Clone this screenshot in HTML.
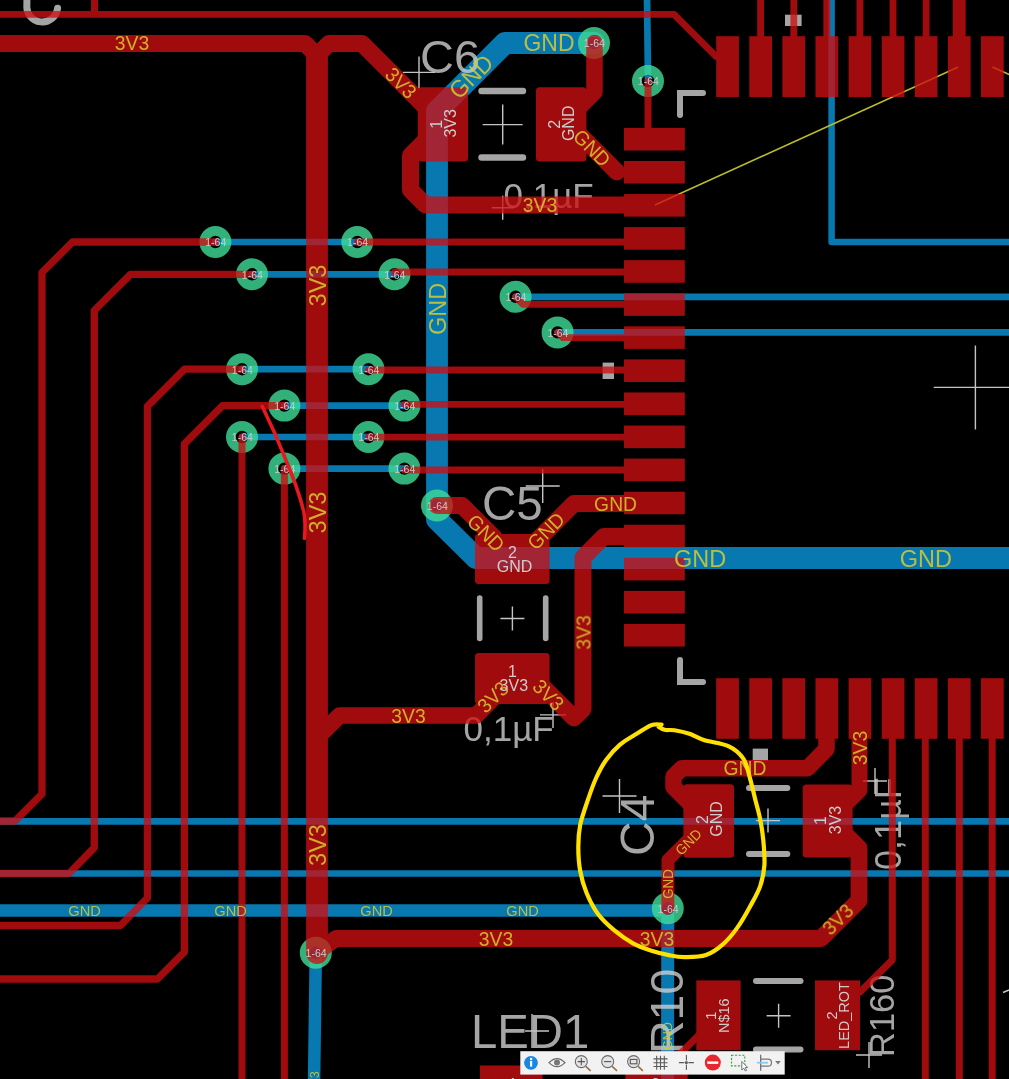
<!DOCTYPE html><html><head><meta charset="utf-8"><style>html,body{margin:0;padding:0;background:#000;width:1009px;height:1079px;overflow:hidden}svg{display:block}text{font-family:"Liberation Sans", sans-serif}</style></head><body>
<svg width="1009" height="1079" viewBox="0 0 1009 1079">
<rect width="1009" height="1079" fill="#000"/>
<g opacity="0.8" stroke="#0a96dc" fill="none" stroke-linecap="round" stroke-linejoin="round"><polyline points="215.4,242.0 357.3,242.0" stroke-width="6.7" /><polyline points="252.0,274.3 394.5,274.3" stroke-width="6.7" /><polyline points="242.0,369.2 368.5,369.2" stroke-width="6.7" /><polyline points="284.4,405.6 404.4,405.6" stroke-width="6.7" /><polyline points="242.0,437.0 368.5,437.0" stroke-width="6.7" /><polyline points="284.4,468.6 404.0,468.6" stroke-width="6.7" /><polyline points="515.6,296.8 1012.0,296.8" stroke-width="6.7" /><polyline points="557.6,332.4 1012.0,332.4" stroke-width="6.7" /><polyline points="-5.0,821.3 1012.0,821.3" stroke-width="6.7" /><polyline points="-5.0,873.5 1012.0,873.5" stroke-width="6.7" /><polyline points="647.0,-5.0 648.0,81.0" stroke-width="6.7" /><polyline points="831.6,-5.0 831.6,242.0 1012.0,242.0" stroke-width="6.5" /><polyline points="594.0,43.0 505.0,43.0 437.0,111.0 437.0,519.5 476.0,558.0 1012.0,558.0" stroke-width="21.8" /><polyline points="-5.0,910.5 660.0,910.5 667.8,908.6" stroke-width="12.6" /><polyline points="315.8,952.7 314.0,1085.0" stroke-width="12.5" /><polyline points="667.8,908.3 667.5,1085.0" stroke-width="13" /></g>
<g opacity="0.8"><g fill="none" stroke="#cfcfcf" stroke-linecap="round" stroke-linejoin="miter"><line x1="481.5" y1="91" x2="523" y2="91" stroke-width="6.4"/><line x1="481.5" y1="157.5" x2="523" y2="157.5" stroke-width="6.4"/><line x1="479.7" y1="598" x2="479.7" y2="638.5" stroke-width="5.6"/><line x1="545.7" y1="598" x2="545.7" y2="638.5" stroke-width="5.6"/><line x1="749" y1="787.9" x2="787.3" y2="787.9" stroke-width="6"/><line x1="749" y1="853.9" x2="787.3" y2="853.9" stroke-width="6"/><line x1="756" y1="981" x2="800.5" y2="981" stroke-width="6"/><line x1="756" y1="1049.5" x2="800.5" y2="1049.5" stroke-width="6"/><polyline points="680,115 680,93 703,93" stroke-width="6"/><polyline points="680,660 680,682 703,682" stroke-width="6"/><path d="M26.9,-8 L26.9,4.9 A15.2,15.2 0 0 0 57.6,8.2" stroke-width="7"/></g><g fill="#cfcfcf"><rect x="785" y="14.7" width="16.6" height="11.3"/><rect x="602.6" y="362.6" width="11.4" height="16.4"/><rect x="752.7" y="748.6" width="15.3" height="11.9"/><text x="420" y="72.5" font-size="47">C6</text><text x="503.5" y="208.3" font-size="35">0,1µF</text><text x="482" y="519.8" font-size="47.5">C5</text><text x="463.5" y="740.5" font-size="35">0,1µF</text><text transform="translate(654,856) rotate(-90)" x="0" y="0" font-size="48">C4</text><text transform="translate(900.5,870) rotate(-90)" x="0" y="0" font-size="36">0,1µF</text><text x="471" y="1048" font-size="47.3">LED1</text><text transform="translate(682.5,1054) rotate(-90)" x="0" y="0" font-size="46.5">R10</text><text transform="translate(893.5,1057) rotate(-90)" x="0" y="0" font-size="34.5">R160</text></g></g>
<g stroke="#c4c4c4" stroke-width="1.4" fill="none"><path d="M403,72.4H435M419,56.400000000000006V88.4"/><path d="M482.7,124.6H522.7M502.7,104.6V144.6"/><path d="M491.7,207.8H513.7M502.7,195.8V219.8"/><path d="M525.7,486H559.7M542.7,469V503"/><path d="M500.4,618.5H524.4M512.4,606.5V630.5"/><path d="M540,714.9H566M553,701.9V727.9"/><path d="M602.5,796H636.5M619.5,779V813"/><path d="M756,820.6H780M768,808.6V832.6"/><path d="M863,781H887M875,768V794"/><path d="M525,1031H549M532,1014V1048"/><path d="M1003,992.5L1009,990"/><path d="M766.6,1015.7H790.6M778.6,1003.7V1027.7"/><path d="M856,1055H882M869,1042V1068"/><path d="M933.6999999999999,387.4H1017.1M975.4,345.4V429.4"/></g>
<g stroke="#bcbc2c" stroke-width="1.5"><line x1="655" y1="205" x2="958.3" y2="67" /><line x1="992.4" y1="67" x2="1012" y2="75.8" /></g>
<g opacity="0.8" stroke="#3edd98" fill="none"><circle cx="594" cy="43" r="11.1" stroke-width="9.8"/><circle cx="648" cy="81" r="11.1" stroke-width="9.8"/><circle cx="215.4" cy="242" r="11.1" stroke-width="9.8"/><circle cx="357.3" cy="242" r="11.1" stroke-width="9.8"/><circle cx="252" cy="274.3" r="11.1" stroke-width="9.8"/><circle cx="394.5" cy="274.3" r="11.1" stroke-width="9.8"/><circle cx="515.6" cy="296.8" r="11.1" stroke-width="9.8"/><circle cx="557.6" cy="332.4" r="11.1" stroke-width="9.8"/><circle cx="242" cy="369.2" r="11.1" stroke-width="9.8"/><circle cx="368.5" cy="369.2" r="11.1" stroke-width="9.8"/><circle cx="284.4" cy="405.6" r="11.1" stroke-width="9.8"/><circle cx="404.4" cy="405.6" r="11.1" stroke-width="9.8"/><circle cx="242" cy="437" r="11.1" stroke-width="9.8"/><circle cx="368.5" cy="437" r="11.1" stroke-width="9.8"/><circle cx="284.4" cy="468.6" r="11.1" stroke-width="9.8"/><circle cx="404.4" cy="468.6" r="11.1" stroke-width="9.8"/><circle cx="437" cy="505.5" r="11.1" stroke-width="9.8"/><circle cx="315.8" cy="952.7" r="11.1" stroke-width="9.8"/><circle cx="667.8" cy="908.3" r="11.1" stroke-width="9.8"/></g>
<g opacity="0.78"><g stroke="#cd0f12" fill="none" stroke-linecap="round" stroke-linejoin="round"><polyline points="-5.0,14.4 674.0,14.4 716.0,56.4" stroke-width="6.9" /><polyline points="94.5,-5.0 94.5,12.0" stroke-width="7" /><polyline points="-5.0,43.4 305.0,43.4 317.0,55.4" stroke-width="17" /><polyline points="317.0,55.4 317.0,953.0" stroke-width="21.8" /><polyline points="317.0,55.4 329.0,43.4 362.0,43.4 434.0,115.4" stroke-width="17" /><polyline points="428.0,138.0 410.5,155.5 410.5,190.0 425.5,205.0 640.0,205.0" stroke-width="17" /><polyline points="594.5,43.0 594.5,92.0 575.0,111.5" stroke-width="16.5" /><polyline points="572.0,127.0 617.0,172.0" stroke-width="17" /><polyline points="648.0,81.0 648.0,130.0" stroke-width="7" /><polyline points="357.3,242.0 640.0,242.0" stroke-width="6.8" /><polyline points="394.5,272.0 640.0,272.0" stroke-width="6.8" /><polyline points="515.6,296.8 523.0,304.3 640.0,304.3" stroke-width="6.8" /><polyline points="557.6,332.4 563.0,337.7 640.0,337.7" stroke-width="6.8" /><polyline points="368.5,370.0 640.0,370.0" stroke-width="6.8" /><polyline points="404.4,404.3 640.0,404.3" stroke-width="6.8" /><polyline points="368.5,437.2 640.0,437.2" stroke-width="6.8" /><polyline points="404.4,470.0 640.0,470.0" stroke-width="6.8" /><polyline points="215.4,242.0 72.5,242.0 42.0,272.5 42.0,794.0 15.0,821.0 -5.0,821.0" stroke-width="7.3" /><polyline points="252.0,274.3 130.5,274.3 94.3,310.5 94.3,847.6 69.0,873.5 -5.0,873.5" stroke-width="7.3" /><polyline points="242.0,369.2 184.6,369.2 147.4,406.4 147.4,898.0 120.5,925.5 -5.0,925.5" stroke-width="7.3" /><polyline points="284.4,405.6 222.6,405.6 184.4,443.8 184.4,952.0 157.5,979.0 -5.0,979.0" stroke-width="7.3" /><polyline points="242.0,437.0 242.0,1085.0" stroke-width="7" /><polyline points="284.4,468.6 284.4,1085.0" stroke-width="7" /><polyline points="315.8,952.7 336.0,938.5 821.0,938.5 859.0,900.5 859.0,848.0 847.0,836.0" stroke-width="16.8" /><polyline points="859.5,730.0 859.5,790.0 846.0,803.5" stroke-width="16" /><polyline points="826.5,730.0 826.5,749.0 807.5,768.2 682.0,768.2 673.5,776.7 673.5,787.0 692.0,805.5" stroke-width="16.5" /><polyline points="702.0,826.0 668.0,860.0 667.8,908.3" stroke-width="13" /><polyline points="437.0,505.5 462.0,505.5 495.0,538.5" stroke-width="17" /><polyline points="535.0,542.5 574.0,503.5 640.0,503.5" stroke-width="17" /><polyline points="640.0,536.5 604.0,536.5 583.0,557.5 583.0,709.0 574.0,718.0 540.0,684.0" stroke-width="17" /><polyline points="510.0,681.0 476.0,715.6 339.5,715.6 317.0,738.0" stroke-width="16.5" /><polyline points="892.3,730.0 892.3,960.0 860.0,992.0" stroke-width="7" /><polyline points="925.3,730.0 925.3,1085.0" stroke-width="7" /><polyline points="959.3,730.0 959.3,1085.0" stroke-width="7" /><polyline points="992.2,730.0 992.2,1085.0" stroke-width="7" /><polyline points="712.0,1022.0 672.0,1062.0" stroke-width="7" /><polyline points="760.6,-5.0 760.6,40.0" stroke-width="6.8" /><polyline points="793.8,-5.0 793.8,40.0" stroke-width="6.8" /><polyline points="826.8,-5.0 826.8,40.0" stroke-width="6.8" /><polyline points="859.9,-5.0 859.9,40.0" stroke-width="6.8" /><polyline points="893.0,-5.0 893.0,40.0" stroke-width="6.8" /><polyline points="926.1,-5.0 926.1,40.0" stroke-width="6.8" /><polyline points="959.2,-5.0 959.2,40.0" stroke-width="13" /></g><g fill="#cd0f12"><rect x="624" y="127.89999999999999" width="60.8" height="22.6" rx="0"/><rect x="624" y="160.96999999999997" width="60.8" height="22.6" rx="0"/><rect x="624" y="194.03999999999996" width="60.8" height="22.6" rx="0"/><rect x="624" y="227.10999999999999" width="60.8" height="22.6" rx="0"/><rect x="624" y="260.18" width="60.8" height="22.6" rx="0"/><rect x="624" y="293.24999999999994" width="60.8" height="22.6" rx="0"/><rect x="624" y="326.32" width="60.8" height="22.6" rx="0"/><rect x="624" y="359.39" width="60.8" height="22.6" rx="0"/><rect x="624" y="392.46" width="60.8" height="22.6" rx="0"/><rect x="624" y="425.53" width="60.8" height="22.6" rx="0"/><rect x="624" y="458.59999999999997" width="60.8" height="22.6" rx="0"/><rect x="624" y="491.66999999999996" width="60.8" height="22.6" rx="0"/><rect x="624" y="524.74" width="60.8" height="22.6" rx="0"/><rect x="624" y="557.8100000000001" width="60.8" height="22.6" rx="0"/><rect x="624" y="590.8800000000001" width="60.8" height="22.6" rx="0"/><rect x="624" y="623.95" width="60.8" height="22.6" rx="0"/><rect x="716.2" y="36.2" width="22.7" height="60.8" rx="0"/><rect x="716.2" y="678.2" width="22.7" height="60.6" rx="0"/><rect x="749.3000000000001" y="36.2" width="22.7" height="60.8" rx="0"/><rect x="749.3000000000001" y="678.2" width="22.7" height="60.6" rx="0"/><rect x="782.4000000000001" y="36.2" width="22.7" height="60.8" rx="0"/><rect x="782.4000000000001" y="678.2" width="22.7" height="60.6" rx="0"/><rect x="815.5" y="36.2" width="22.7" height="60.8" rx="0"/><rect x="815.5" y="678.2" width="22.7" height="60.6" rx="0"/><rect x="848.6" y="36.2" width="22.7" height="60.8" rx="0"/><rect x="848.6" y="678.2" width="22.7" height="60.6" rx="0"/><rect x="881.7" y="36.2" width="22.7" height="60.8" rx="0"/><rect x="881.7" y="678.2" width="22.7" height="60.6" rx="0"/><rect x="914.8000000000001" y="36.2" width="22.7" height="60.8" rx="0"/><rect x="914.8000000000001" y="678.2" width="22.7" height="60.6" rx="0"/><rect x="947.9000000000001" y="36.2" width="22.7" height="60.8" rx="0"/><rect x="947.9000000000001" y="678.2" width="22.7" height="60.6" rx="0"/><rect x="981.0" y="36.2" width="22.7" height="60.8" rx="0"/><rect x="981.0" y="678.2" width="22.7" height="60.6" rx="0"/><rect x="417.7" y="87.2" width="50.3" height="74.2" rx="3.5"/><rect x="536" y="87.2" width="50.4" height="74.2" rx="3.5"/><rect x="475" y="534" width="74.6" height="50.0" rx="3.5"/><rect x="475" y="653" width="74.6" height="51.0" rx="3.5"/><rect x="683.4" y="784.3" width="50.6" height="73.4" rx="3.5"/><rect x="802.7" y="784.4" width="49.9" height="73.1" rx="3.5"/><rect x="696.3" y="980.4" width="44.3" height="69.8" rx="0"/><rect x="815" y="980.4" width="45.0" height="69.8" rx="0"/><rect x="480" y="1065.5" width="62.5" height="19.5" rx="0"/><rect x="625.4" y="1065.5" width="62.3" height="19.5" rx="0"/></g></g>
<g opacity="0.85"><text transform="translate(132.0,43.4) scale(1,1.045)" x="0" y="6.77" font-size="19.3325" text-anchor="middle" fill="#d8cd2f" >3V3</text><text transform="translate(401.0,83.0) rotate(45) scale(1,1.045)" x="0" y="6.77" font-size="19.3325" text-anchor="middle" fill="#d8cd2f" >3V3</text><text transform="translate(471.0,76.5) rotate(-45) scale(1,1.045)" x="0" y="8.05" font-size="22.99" text-anchor="middle" fill="#d8cd2f" >GND</text><text transform="translate(549.0,43.0) scale(1,1.045)" x="0" y="8.05" font-size="22.99" text-anchor="middle" fill="#d8cd2f" >GND</text><text transform="translate(592.0,148.0) rotate(45) scale(1,1.045)" x="0" y="6.77" font-size="19.3325" text-anchor="middle" fill="#d8cd2f" >GND</text><text transform="translate(540.0,205.0) scale(1,1.045)" x="0" y="6.77" font-size="19.3325" text-anchor="middle" fill="#d8cd2f" >3V3</text><text transform="translate(317.0,285.5) rotate(-90) scale(1,1.045)" x="0" y="8.23" font-size="23.5125" text-anchor="middle" fill="#d8cd2f" >3V3</text><text transform="translate(437.0,309.0) rotate(-90) scale(1,1.045)" x="0" y="8.23" font-size="23.5125" text-anchor="middle" fill="#d8cd2f" >GND</text><text transform="translate(317.0,512.5) rotate(-90) scale(1,1.045)" x="0" y="8.23" font-size="23.5125" text-anchor="middle" fill="#d8cd2f" >3V3</text><text transform="translate(317.0,845.0) rotate(-90) scale(1,1.045)" x="0" y="8.23" font-size="23.5125" text-anchor="middle" fill="#d8cd2f" >3V3</text><text transform="translate(486.0,533.0) rotate(45) scale(1,1.045)" x="0" y="6.77" font-size="19.3325" text-anchor="middle" fill="#d8cd2f" >GND</text><text transform="translate(546.0,531.0) rotate(-45) scale(1,1.045)" x="0" y="6.77" font-size="19.3325" text-anchor="middle" fill="#d8cd2f" >GND</text><text transform="translate(615.6,503.5) scale(1,1.045)" x="0" y="6.77" font-size="19.3325" text-anchor="middle" fill="#d8cd2f" >GND</text><text transform="translate(700.0,558.0) scale(1,1.045)" x="0" y="8.23" font-size="23.5125" text-anchor="middle" fill="#d8cd2f" >GND</text><text transform="translate(925.8,558.0) scale(1,1.045)" x="0" y="8.23" font-size="23.5125" text-anchor="middle" fill="#d8cd2f" >GND</text><text transform="translate(583.0,632.5) rotate(-90) scale(1,1.045)" x="0" y="6.77" font-size="19.3325" text-anchor="middle" fill="#d8cd2f" >3V3</text><text transform="translate(493.0,697.0) rotate(-45) scale(1,1.045)" x="0" y="6.77" font-size="19.3325" text-anchor="middle" fill="#d8cd2f" >3V3</text><text transform="translate(548.5,695.0) rotate(45) scale(1,1.045)" x="0" y="6.77" font-size="19.3325" text-anchor="middle" fill="#d8cd2f" >3V3</text><text transform="translate(408.5,715.6) scale(1,1.045)" x="0" y="6.77" font-size="19.3325" text-anchor="middle" fill="#d8cd2f" >3V3</text><text transform="translate(84.5,910.6) scale(1,1.045)" x="0" y="5.12" font-size="14.629999999999999" text-anchor="middle" fill="#d8cd2f" >GND</text><text transform="translate(230.5,910.6) scale(1,1.045)" x="0" y="5.12" font-size="14.629999999999999" text-anchor="middle" fill="#d8cd2f" >GND</text><text transform="translate(376.5,910.6) scale(1,1.045)" x="0" y="5.12" font-size="14.629999999999999" text-anchor="middle" fill="#d8cd2f" >GND</text><text transform="translate(522.5,910.6) scale(1,1.045)" x="0" y="5.12" font-size="14.629999999999999" text-anchor="middle" fill="#d8cd2f" >GND</text><text transform="translate(496.0,938.5) scale(1,1.045)" x="0" y="6.77" font-size="19.3325" text-anchor="middle" fill="#d8cd2f" >3V3</text><text transform="translate(657.0,938.5) scale(1,1.045)" x="0" y="6.77" font-size="19.3325" text-anchor="middle" fill="#d8cd2f" >3V3</text><text transform="translate(837.5,919.0) rotate(-45) scale(1,1.045)" x="0" y="6.77" font-size="19.3325" text-anchor="middle" fill="#d8cd2f" >3V3</text><text transform="translate(745.0,768.2) scale(1,1.045)" x="0" y="6.77" font-size="19.3325" text-anchor="middle" fill="#d8cd2f" >GND</text><text transform="translate(859.5,748.0) rotate(-90) scale(1,1.045)" x="0" y="6.77" font-size="19.3325" text-anchor="middle" fill="#d8cd2f" >3V3</text><text transform="translate(688.5,842.0) rotate(-45) scale(1,1.045)" x="0" y="4.75" font-size="13.584999999999999" text-anchor="middle" fill="#d8cd2f" >GND</text><text transform="translate(667.8,884.0) rotate(-90) scale(1,1.045)" x="0" y="4.65" font-size="13.271499999999998" text-anchor="middle" fill="#d8cd2f" >GND</text><text transform="translate(667.5,1036.0) rotate(-90) scale(1,1.045)" x="0" y="4.39" font-size="12.54" text-anchor="middle" fill="#d8cd2f" >GND</text><text transform="translate(314.5,1082.5) rotate(-90) scale(1,1.045)" x="0" y="4.39" font-size="12.54" text-anchor="middle" fill="#d8cd2f" >3V3</text></g>
<text transform="translate(436.0,124.3) rotate(-90)" x="0" y="5.60" font-size="16" text-anchor="middle" fill="#cdcdcd" >1</text><text transform="translate(450.3,123.3) rotate(-90)" x="0" y="5.60" font-size="16" text-anchor="middle" fill="#cdcdcd" >3V3</text><text transform="translate(554.5,124.3) rotate(-90)" x="0" y="5.60" font-size="16" text-anchor="middle" fill="#cdcdcd" >2</text><text transform="translate(568.8,123.3) rotate(-90)" x="0" y="5.60" font-size="16" text-anchor="middle" fill="#cdcdcd" >GND</text><text transform="translate(512.5,552.0)" x="0" y="5.60" font-size="16" text-anchor="middle" fill="#cdcdcd" >2</text><text transform="translate(514.5,566.0)" x="0" y="5.60" font-size="16" text-anchor="middle" fill="#cdcdcd" >GND</text><text transform="translate(512.5,671.0)" x="0" y="5.60" font-size="16" text-anchor="middle" fill="#cdcdcd" >1</text><text transform="translate(513.8,685.0)" x="0" y="5.60" font-size="16" text-anchor="middle" fill="#cdcdcd" >3V3</text><text transform="translate(702.0,819.5) rotate(-90)" x="0" y="5.60" font-size="16" text-anchor="middle" fill="#cdcdcd" >2</text><text transform="translate(716.0,819.0) rotate(-90)" x="0" y="5.60" font-size="16" text-anchor="middle" fill="#cdcdcd" >GND</text><text transform="translate(820.0,820.5) rotate(-90)" x="0" y="5.60" font-size="16" text-anchor="middle" fill="#cdcdcd" >1</text><text transform="translate(835.0,820.0) rotate(-90)" x="0" y="5.60" font-size="16" text-anchor="middle" fill="#cdcdcd" >3V3</text><text transform="translate(711.0,1015.7) rotate(-90)" x="0" y="5.07" font-size="14.5" text-anchor="middle" fill="#cdcdcd" >1</text><text transform="translate(724.0,1015.7) rotate(-90)" x="0" y="5.07" font-size="14.5" text-anchor="middle" fill="#cdcdcd" >N$16</text><text transform="translate(511.5,1082.5)" x="0" y="5.25" font-size="15" text-anchor="middle" fill="#cdcdcd" >4</text><text transform="translate(655.5,1082.5)" x="0" y="5.25" font-size="15" text-anchor="middle" fill="#cdcdcd" >2</text><text transform="translate(832.0,1015.5) rotate(-90)" x="0" y="5.07" font-size="14.5" text-anchor="middle" fill="#cdcdcd" >2</text><text transform="translate(844.3,1015.5) rotate(-90)" x="0" y="5.07" font-size="14.5" text-anchor="middle" fill="#cdcdcd" >LED_ROT</text>
<text transform="translate(594.3,43.7)" x="0" y="3.67" font-size="10.5" text-anchor="middle" fill="#c9c9c9" >1-64</text><text transform="translate(648.3,81.7)" x="0" y="3.67" font-size="10.5" text-anchor="middle" fill="#c9c9c9" >1-64</text><text transform="translate(215.7,242.7)" x="0" y="3.67" font-size="10.5" text-anchor="middle" fill="#c9c9c9" >1-64</text><text transform="translate(357.6,242.7)" x="0" y="3.67" font-size="10.5" text-anchor="middle" fill="#c9c9c9" >1-64</text><text transform="translate(252.3,275.0)" x="0" y="3.67" font-size="10.5" text-anchor="middle" fill="#c9c9c9" >1-64</text><text transform="translate(394.8,275.0)" x="0" y="3.67" font-size="10.5" text-anchor="middle" fill="#c9c9c9" >1-64</text><text transform="translate(515.9,297.5)" x="0" y="3.67" font-size="10.5" text-anchor="middle" fill="#c9c9c9" >1-64</text><text transform="translate(557.9,333.1)" x="0" y="3.67" font-size="10.5" text-anchor="middle" fill="#c9c9c9" >1-64</text><text transform="translate(242.3,369.9)" x="0" y="3.67" font-size="10.5" text-anchor="middle" fill="#c9c9c9" >1-64</text><text transform="translate(368.8,369.9)" x="0" y="3.67" font-size="10.5" text-anchor="middle" fill="#c9c9c9" >1-64</text><text transform="translate(284.7,406.3)" x="0" y="3.67" font-size="10.5" text-anchor="middle" fill="#c9c9c9" >1-64</text><text transform="translate(404.7,406.3)" x="0" y="3.67" font-size="10.5" text-anchor="middle" fill="#c9c9c9" >1-64</text><text transform="translate(242.3,437.7)" x="0" y="3.67" font-size="10.5" text-anchor="middle" fill="#c9c9c9" >1-64</text><text transform="translate(368.8,437.7)" x="0" y="3.67" font-size="10.5" text-anchor="middle" fill="#c9c9c9" >1-64</text><text transform="translate(284.7,469.3)" x="0" y="3.67" font-size="10.5" text-anchor="middle" fill="#c9c9c9" >1-64</text><text transform="translate(404.7,469.3)" x="0" y="3.67" font-size="10.5" text-anchor="middle" fill="#c9c9c9" >1-64</text><text transform="translate(437.3,506.2)" x="0" y="3.67" font-size="10.5" text-anchor="middle" fill="#c9c9c9" >1-64</text><text transform="translate(316.1,953.4)" x="0" y="3.67" font-size="10.5" text-anchor="middle" fill="#c9c9c9" >1-64</text><text transform="translate(668.1,909.0)" x="0" y="3.67" font-size="10.5" text-anchor="middle" fill="#c9c9c9" >1-64</text>
<path d="M661.6,724.6 C660.5,724.6 656.7,724.3 654.7,724.5 C652.7,724.7 653.0,724.2 649.7,725.9 C646.4,727.6 639.9,731.7 634.9,734.8 C629.9,737.9 624.8,740.5 620,744.7 C615.2,748.9 610.1,754.4 606.1,760 C602.1,765.6 599.0,771.7 595.9,778.5 C592.8,785.3 590.2,793.0 587.6,800.7 C585.0,808.4 581.8,817.1 580.2,824.8 C578.7,832.5 578.3,839.3 578.3,847 C578.3,854.7 578.8,863.3 580.2,871 C581.6,878.7 583.8,886.2 586.7,893.3 C589.6,900.4 593.2,907.5 597.8,913.7 C602.4,919.9 608.5,925.5 614.4,930.4 C620.3,935.3 626.8,939.9 633,943.3 C639.2,946.7 645.3,948.7 651.5,950.7 C657.7,952.7 664.4,954.3 670,955.4 C675.6,956.5 679.0,957.2 685,957.1 C691.0,957.0 699.7,957.1 706,955 C712.3,952.9 717.4,949.1 722.6,944.6 C727.8,940.1 732.7,934.2 737.2,927.9 C741.7,921.6 746.0,914.0 749.8,907 C753.6,900.0 757.8,893.1 760.2,886.1 C762.6,879.1 763.9,872.9 764.4,865.3 C764.9,857.6 764.0,847.9 763.3,840.2 C762.6,832.5 761.6,826.2 760.2,819.3 C758.8,812.3 756.7,805.5 755,798.5 C753.3,791.5 751.7,784.2 749.8,777.6 C747.9,771.0 747.0,764.0 743.5,758.8 C740.0,753.6 735.5,749.4 728.9,746.3 C722.3,743.2 710.4,742.1 703.8,740 C697.2,737.9 694.3,735.4 689.4,733.8 C684.5,732.2 678.6,731.0 674.5,730.3 C670.4,729.6 667.2,730.4 664.6,729.8 C662.0,729.2 659.7,727.3 658.7,726.8" fill="none"  stroke="#ffe100" stroke-width="4.2" stroke-linecap="round" stroke-linejoin="round"/>
<path d="M262.2,406.3 C268,418 274,430 284.5,456.7 C292,474 299,492 303.8,511.6 C306,523 305,532 304.5,538.3" fill="none" stroke="#e8181c" stroke-width="3.6" stroke-linecap="round"/>
<rect x="520.3" y="1051.2" width="264.4" height="23.4" fill="#f2f2f2"/><circle cx="531" cy="1062.8" r="6.9" fill="#1a86e0"/><rect x="530" y="1061" width="2.2" height="5.6" fill="#fff"/><circle cx="531.1" cy="1058.9" r="1.25" fill="#fff"/><path d="M549,1062.6 Q557,1054.5 565,1062.6 Q557,1070.7 549,1062.6 Z" fill="none" stroke="#6a6a6a" stroke-width="1.2"/><circle cx="557" cy="1062.6" r="3" fill="#777"/><line x1="585.8" y1="1066.3999999999999" x2="590.5999999999999" y2="1070.8999999999999" stroke="#9a7040" stroke-width="1.6"/><circle cx="581.3" cy="1061.6" r="6" fill="#e4e4e4" stroke="#6a6a6a" stroke-width="1.1"/><path d="M577.6999999999999,1061.6H584.9M581.3,1058.0V1065.1999999999998" stroke="#555" stroke-width="1.1"/><line x1="612.2" y1="1066.3999999999999" x2="617.0" y2="1070.8999999999999" stroke="#9a7040" stroke-width="1.6"/><circle cx="607.7" cy="1061.6" r="6" fill="#e4e4e4" stroke="#6a6a6a" stroke-width="1.1"/><path d="M604.1,1061.6H611.3000000000001" stroke="#555" stroke-width="1.1"/><line x1="638.1" y1="1066.3999999999999" x2="642.9" y2="1070.8999999999999" stroke="#9a7040" stroke-width="1.6"/><circle cx="633.6" cy="1061.6" r="6" fill="#e4e4e4" stroke="#6a6a6a" stroke-width="1.1"/><rect x="630.3000000000001" y="1059.3999999999999" width="6.6" height="4.4" fill="none" stroke="#555" stroke-width="1.1"/><path d="M656.7,1055.7V1069.7M660.5,1055.7V1069.7M664.3,1055.7V1069.7M653.5,1058.9H667.5M653.5,1062.7H667.5M653.5,1066.5H667.5" stroke="#5a5a5a" stroke-width="1.1"/><path d="M678.9,1062.6H684.4M688.4,1062.6H693.9M686.4,1055.1V1060.6M686.4,1064.6V1070.1" stroke="#5a5a5a" stroke-width="1.1"/><rect x="685.1" y="1061.3" width="2.6" height="2.6" fill="#555"/><circle cx="712.8" cy="1062.6" r="8" fill="#e8282e"/><rect x="707.3" y="1061.4" width="11" height="2.5" fill="#fff"/><rect x="731.5" y="1055.3" width="13.3" height="10.6" fill="none" stroke="#22aa22" stroke-width="1.1" stroke-dasharray="2,1.6"/><path d="M741.8,1061.5 L741.8,1070 L743.8,1068.2 L745.3,1071 L746.6,1070.3 L745.2,1067.6 L747.6,1067.4 Z" fill="#fff" stroke="#555" stroke-width="0.8"/><path d="M760.7,1054.8V1070.7" stroke="#666" stroke-width="1.2"/><path d="M761,1059.2 H768 A3.5,3.5 0 0 1 768,1066.2 H761" fill="none" stroke="#777" stroke-width="1.2"/><path d="M757,1062.7H768" stroke="#8cc8f0" stroke-width="1.8"/><path d="M775.2,1061 L780.8,1061 L778,1064.6 Z" fill="#777"/>
</svg></body></html>
